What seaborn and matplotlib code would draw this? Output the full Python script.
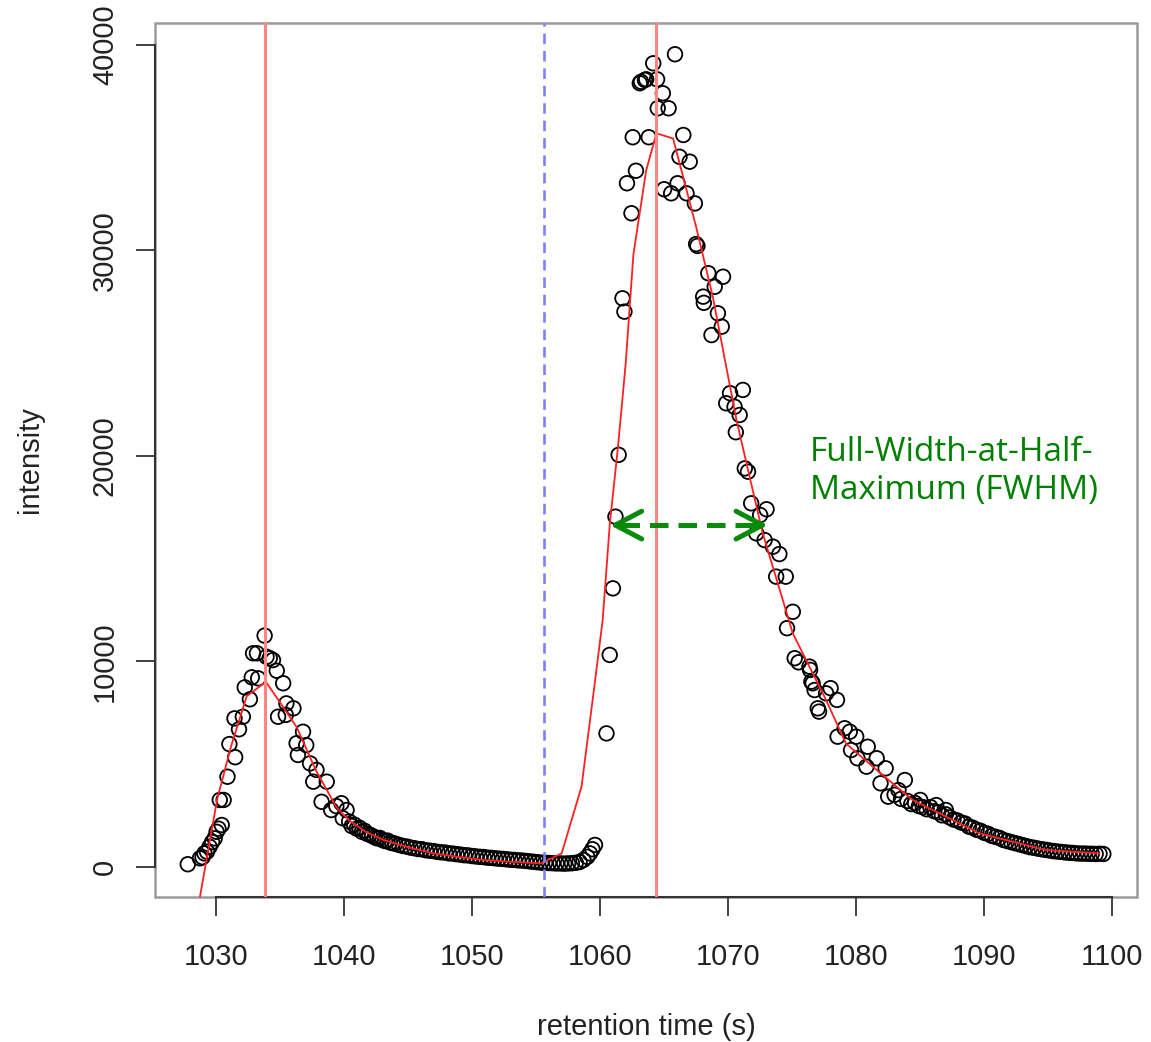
import numpy as np
import pandas as pd
import matplotlib
matplotlib.use("Agg")
import matplotlib.pyplot as plt
import seaborn as sns
from matplotlib.patches import Rectangle

# ---------------- data ----------------
peak1_rt = [1027.8, 1028.75, 1028.95, 1029.1, 1029.3, 1029.5, 1029.7, 1029.9, 1030.05, 1030.2,
            1030.3, 1030.45, 1030.6, 1030.9, 1031.05, 1031.45, 1031.5, 1031.8, 1032.1, 1032.25,
            1032.65, 1032.8, 1032.9, 1033.2, 1033.3, 1033.8, 1033.95, 1034.2, 1034.45, 1034.75,
            1034.85, 1035.25, 1035.45, 1035.5, 1036.05, 1036.3, 1036.4, 1036.8, 1037.05, 1037.35,
            1037.6, 1037.85, 1038.25, 1038.65, 1039.0, 1039.4, 1039.8, 1039.9, 1040.2]
peak1_int = [120, 410, 460, 650, 730, 970, 1200, 1380, 1700, 1850,
             3250, 2030, 3250, 4380, 5970, 7220, 5330, 6690, 7300, 8730,
             8150, 9220, 10390, 10390, 9170, 11250, 10220, 10150, 10060, 9540,
             7300, 8930, 7390, 7950, 7710, 6010, 5440, 6570, 5920, 5030,
             4140, 4710, 3160, 4140, 2760, 2950, 3090, 2360, 2760]

tail1_rt = [1040.4, 1040.6, 1040.8, 1041.0, 1041.2, 1041.4, 1041.6, 1041.8, 1042.0, 1042.2,
            1042.4, 1042.6, 1042.8, 1043.0, 1043.2, 1043.4, 1043.6, 1043.8, 1044.0, 1044.3,
            1044.6, 1044.9, 1045.2, 1045.5, 1045.8, 1046.1, 1046.4, 1046.7, 1047.0, 1047.3,
            1047.6, 1047.9, 1048.2, 1048.5, 1048.8, 1049.1, 1049.4, 1049.7, 1050.0, 1050.3,
            1050.6, 1050.9, 1051.2, 1051.5, 1051.8, 1052.1, 1052.4, 1052.7, 1053.0, 1053.3,
            1053.6, 1053.9, 1054.2, 1054.5, 1054.8, 1055.1, 1055.4, 1055.7, 1056.0, 1056.3,
            1056.6, 1056.9, 1057.2, 1057.5, 1057.8, 1058.1, 1058.4, 1058.7, 1059.0, 1059.2,
            1059.4, 1059.6]
tail1_int = [2200, 1980, 2050, 1850, 1900, 1700, 1750, 1600, 1560, 1500,
             1430, 1380, 1400, 1300, 1250, 1270, 1180, 1150, 1120, 1060,
             1010, 980, 930, 900, 860, 850, 800, 780, 760, 720,
             700, 690, 650, 640, 610, 590, 560, 550, 520, 500,
             480, 470, 440, 430, 410, 390, 380, 360, 340, 330,
             310, 300, 280, 260, 240, 220, 200, 190, 180, 170,
             160, 160, 150, 160, 170, 190, 230, 330, 480, 650,
             850, 1060]

peak2_rt = [1060.5, 1060.75, 1061.0, 1061.2, 1061.45, 1061.75, 1061.9, 1062.1, 1062.45, 1062.55,
            1062.8, 1063.1, 1063.2, 1063.5, 1063.6, 1063.8, 1064.15, 1064.45, 1064.5, 1064.9,
            1065.0, 1065.35, 1065.55, 1065.85, 1066.05, 1066.2, 1066.5, 1066.75, 1067.0, 1067.4,
            1067.5, 1067.6, 1068.05, 1068.1, 1068.45, 1068.7, 1068.95, 1069.2, 1069.5, 1069.6,
            1069.85, 1070.15, 1070.5, 1070.6, 1070.9, 1071.15, 1071.3, 1071.55, 1071.8, 1072.2,
            1072.5, 1072.85, 1073.0, 1073.5, 1073.75, 1074.0, 1074.5, 1074.6, 1075.05, 1075.2,
            1075.5, 1076.35, 1076.4, 1076.5, 1076.6, 1076.75, 1077.0, 1077.1, 1077.65, 1078.0,
            1078.5, 1078.55, 1079.1, 1079.5, 1079.6, 1080.0, 1080.1, 1080.8, 1080.9, 1081.6,
            1081.9, 1082.3, 1082.5, 1083.3, 1083.8, 1085.0, 1086.25, 1087.0]
peak2_int = [6490, 10310, 13550, 17040, 20050, 27670, 27020, 33270, 31810, 35510,
             33880, 38140, 38210, 38300, 38330, 35510, 39110, 38330, 36920, 37650,
             32980, 36920, 32780, 39550, 33270, 34560, 35620, 32780, 34320, 32290,
             30310, 30220, 27750, 27450, 28890, 25880, 28230, 26940, 26290, 28720,
             22560, 23050, 22390, 21150, 21990, 23210, 19390, 19230, 17690, 16230,
             17120, 15900, 17400, 15580, 14120, 15220, 14120, 11610, 12410, 10150,
             9950, 9740, 9580, 9010, 8930, 8600, 7710, 7550, 8440, 8690,
             8120, 6330, 6740, 6570, 5680, 6330, 5280, 4870, 5840, 5280,
             4060, 4790, 3410, 3730, 4220, 3250, 3000, 2760]

tail2_rt = [1083.0, 1083.5, 1084.0, 1084.3, 1084.6, 1084.9, 1085.2, 1085.5, 1085.8, 1086.1,
            1086.4, 1086.7, 1087.0, 1087.3, 1087.6, 1087.9, 1088.2, 1088.5, 1088.8, 1089.1,
            1089.4, 1089.7, 1090.0, 1090.3, 1090.6, 1090.9, 1091.2, 1091.5, 1091.8, 1092.1,
            1092.4, 1092.7, 1093.0, 1093.3, 1093.6, 1093.9, 1094.2, 1094.5, 1094.8, 1095.1,
            1095.4, 1095.7, 1096.0, 1096.3, 1096.6, 1096.9, 1097.2, 1097.5, 1097.8, 1098.1,
            1098.4, 1098.7, 1099.0, 1099.3]
tail2_int = [3500, 3300, 3200, 3050, 3100, 2950, 2900, 2800, 2900, 2700,
             2650, 2500, 2550, 2400, 2300, 2250, 2150, 2100, 1950, 1900,
             1800, 1750, 1650, 1600, 1500, 1450, 1400, 1300, 1250, 1200,
             1150, 1100, 1050, 1000, 950, 920, 880, 850, 820, 790,
             760, 740, 720, 700, 680, 670, 650, 640, 640, 630,
             630, 620, 630, 620]

fit_rt = [1028.6, 1030.1, 1031.2, 1032.4, 1033.9, 1035.0, 1036.3, 1037.8, 1039.4, 1040.4,
          1041.7, 1043.1, 1045.0, 1047.0, 1049.0, 1050.9, 1053.0, 1055.4, 1057.0, 1058.55,
          1059.45, 1060.2, 1060.76, 1061.4, 1062.0, 1062.6, 1063.6, 1064.4, 1065.7, 1067.5,
          1068.8, 1070.65, 1072.7, 1075.05, 1077.66, 1079.2, 1081.8, 1084.4, 1089.6, 1094.8,
          1099.0]
fit_int = [-2000, 3300, 5900, 8300, 9000, 8000, 6800, 4700, 2900, 2250,
           1700, 1300, 950, 650, 470, 330, 240, 165, 650, 3900,
           8280, 12000, 16700, 20450, 24500, 29800, 33900, 35700, 35450, 31150,
           27750, 21750, 16230, 11360, 8100, 6000, 4600, 3250, 1630, 810,
           650]

peak_apex_rt = [1033.8, 1064.35]
boundary_rt = 1055.6
fwhm_left, fwhm_right, half_max = 1060.77, 1073.1, 16630

x_ticks = [1030, 1040, 1050, 1060, 1070, 1080, 1090, 1100]
y_ticks = [0, 10000, 20000, 30000, 40000]
x_label = "retention time (s)"
y_label = "intensity"
fwhm_text = "Full-Width-at-Half-\nMaximum (FWHM)"

# ---------------- figure ----------------
sns.set_theme(style="white")
plt.rcParams["font.family"] = ["Liberation Sans", "DejaVu Sans"]

W, H = 1151, 1042
fig = plt.figure(figsize=(W / 100, H / 100), dpi=100)
L, R, T, B = 155, 1137, 22.7, 896.7
ax = fig.add_axes([L / W, 1 - B / H, (R - L) / W, (B - T) / H])

scan = pd.DataFrame({
    "rt": peak1_rt + tail1_rt + peak2_rt + tail2_rt,
    "intensity": peak1_int + tail1_int + peak2_int + tail2_int,
})
sns.scatterplot(data=scan, x="rt", y="intensity", ax=ax, s=110, marker="o",
                linewidth=1.3, edgecolor="black", color="black", zorder=2, legend=False)
ax.collections[-1].set_facecolor("none")

fit = pd.DataFrame({"rt": fit_rt, "fit": fit_int})
sns.lineplot(data=fit, x="rt", y="fit", ax=ax, color="#ff2020", lw=1.3,
             sort=False, estimator=None, zorder=3)

for p in peak_apex_rt:
    ax.axvline(p, color="#ff8585", lw=2.2, zorder=3)
ax.axvline(boundary_rt, color="#7f7fff", lw=1.9, ls=(0, (4.0, 2.6)), zorder=3)

# FWHM arrow
green = "#0a8a0a"
ax.plot([fwhm_left + 0.9, fwhm_right - 0.9], [half_max, half_max], color=green,
        lw=3.6, ls=(0, (3.7, 2.0)), solid_capstyle="butt", dash_capstyle="butt", zorder=4)
for tip, tail in [(fwhm_left, fwhm_left + 1.0), (fwhm_right, fwhm_right - 1.0)]:
    ax.annotate("", xy=(tip, half_max), xytext=(tail, half_max),
                arrowprops=dict(arrowstyle="->,head_length=0.95,head_width=0.5",
                                color=green, lw=3.6, mutation_scale=20,
                                shrinkA=0, shrinkB=0), zorder=4)
ax.text(1076.4, 20950, fwhm_text, color="#008000", fontsize=24,
        family=["Open Sans", "DejaVu Sans"], ha="left", va="top", linespacing=1.2)

# axes styling (R base-graphics look)
ax.set_xlim(1025.24, 1101.93)
ax.set_ylim(-1460, 41086)
ax.set_xticks(x_ticks)
ax.set_yticks(y_ticks)
ax.set_xticklabels([str(v) for v in x_ticks])
ax.set_yticklabels([str(v) for v in y_ticks])
ax.tick_params(axis="both", direction="out", length=14, width=1.3, color="#333333",
               labelsize=21, labelcolor="#222222", bottom=True, left=True)
ax.tick_params(axis="x", pad=19)
ax.tick_params(axis="y", pad=12, labelrotation=90)
for lbl in ax.get_yticklabels():
    lbl.set_va("center")

for side in ["top", "right"]:
    ax.spines[side].set_visible(False)
for side in ["bottom", "left"]:
    ax.spines[side].set_color("#333333")
    ax.spines[side].set_linewidth(1.5)
ax.spines["bottom"].set_bounds(x_ticks[0], x_ticks[-1])
ax.spines["left"].set_bounds(y_ticks[0], y_ticks[-1])
ax.add_patch(Rectangle((0, 0), 1, 1, transform=ax.transAxes, fill=False,
                       ec="#9a9a9a", lw=1.8, clip_on=False, zorder=0.5))

ax.set_xlabel(x_label, fontsize=21, color="#222222")
ax.set_ylabel(y_label, fontsize=21, color="#222222")
ax.xaxis.set_label_coords(0.5, -(1013 - B) / (B - T))
ax.yaxis.set_label_coords(-(L - 44) / (R - L), 0.5)

fig.savefig("out.png", dpi=100, facecolor="white")
